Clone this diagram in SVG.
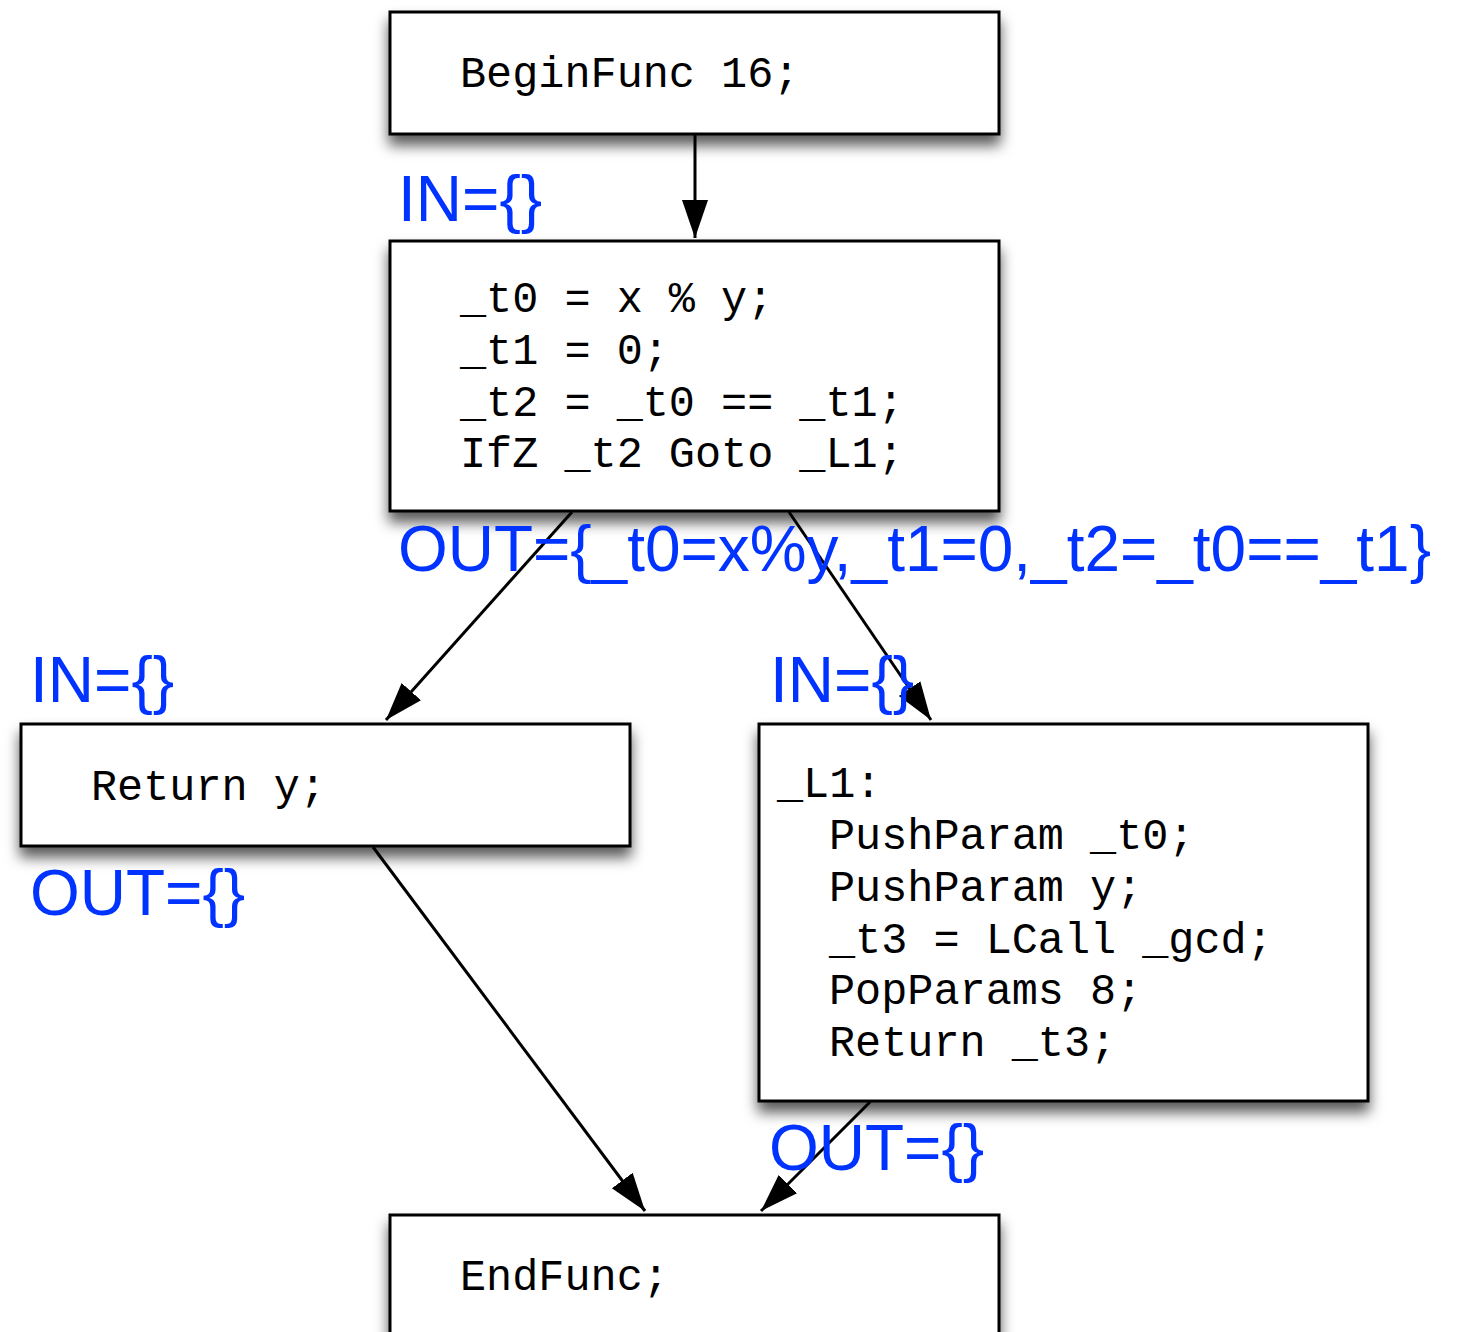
<svg xmlns="http://www.w3.org/2000/svg" width="1461" height="1332" viewBox="0 0 1461 1332">
  <defs>
    <filter id="shadow" x="-10%" y="-20%" width="120%" height="160%">
      <feDropShadow dx="0" dy="10" stdDeviation="7" flood-color="#000" flood-opacity="0.65"/>
    </filter>
    <marker id="arrow" markerUnits="userSpaceOnUse" markerWidth="40" markerHeight="30" viewBox="0 0 40 30" refX="38" refY="15" orient="auto">
      <path d="M0,2 L38,15 L0,28 Z" fill="#000"/>
    </marker>
    <style>
      .box { fill: #fff; stroke: #000; stroke-width: 3; filter: url(#shadow); }
      .code { font-family: "Liberation Mono", "Courier New", monospace; font-size: 43.5px; fill: #000; white-space: pre; }
      .flow { font-family: "Liberation Sans", Arial, Helvetica, sans-serif; font-size: 64px; fill: #0033ff; }
      .edge { stroke: #000; stroke-width: 3; fill: none; marker-end: url(#arrow); }
    </style>
  </defs>
  <rect width="1461" height="1332" fill="#fff"/>

  <!-- basic blocks -->
  <g id="begin">
    <rect class="box" x="390" y="12" width="609" height="122"/>
    <text class="code" x="460" y="87" xml:space="preserve">BeginFunc 16;</text>
  </g>

  <g id="cond">
    <rect class="box" x="390" y="241" width="609" height="270"/>
    <text class="code" xml:space="preserve"><tspan x="460" y="312">_t0 = x % y;</tspan><tspan x="460" y="364">_t1 = 0;</tspan><tspan x="460" y="416">_t2 = _t0 == _t1;</tspan><tspan x="460" y="467">IfZ _t2 Goto _L1;</tspan></text>
  </g>

  <g id="ret">
    <rect class="box" x="21" y="724" width="609" height="122"/>
    <text class="code" x="91" y="800" xml:space="preserve">Return y;</text>
  </g>

  <g id="l1">
    <rect class="box" x="759" y="724" width="609" height="377"/>
    <text class="code" xml:space="preserve"><tspan x="777" y="797">_L1:</tspan><tspan x="829" y="849">PushParam _t0;</tspan><tspan x="829" y="901">PushParam y;</tspan><tspan x="829" y="953">_t3 = LCall _gcd;</tspan><tspan x="829" y="1004">PopParams 8;</tspan><tspan x="829" y="1056">Return _t3;</tspan></text>
  </g>

  <g id="end">
    <rect class="box" x="390" y="1215" width="609" height="200"/>
    <text class="code" x="460" y="1290" xml:space="preserve">EndFunc;</text>
  </g>

  <!-- control-flow edges -->
  <g id="edges">
    <line class="edge" x1="695" y1="135" x2="695" y2="238"/>
    <line class="edge" x1="572" y1="512" x2="386" y2="720"/>
    <line class="edge" x1="789" y1="512" x2="931" y2="720"/>
    <line class="edge" x1="373" y1="847" x2="645" y2="1211"/>
    <line class="edge" x1="870" y1="1102" x2="761" y2="1211"/>
  </g>

  <!-- dataflow annotations -->
  <g id="labels">
    <text class="flow" x="398" y="221">IN={}</text>
    <text class="flow" x="398" y="571" textLength="1033" lengthAdjust="spacingAndGlyphs">OUT={_t0=x%y,_t1=0,_t2=_t0==_t1}</text>
    <text class="flow" x="30" y="702">IN={}</text>
    <text class="flow" x="770" y="702">IN={}</text>
    <text class="flow" x="30" y="915">OUT={}</text>
    <text class="flow" x="769" y="1170">OUT={}</text>
  </g>
</svg>
